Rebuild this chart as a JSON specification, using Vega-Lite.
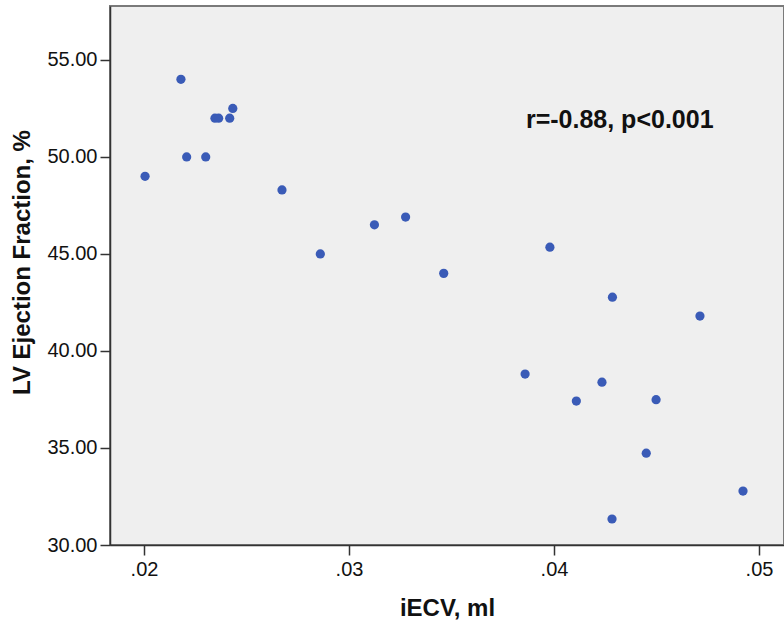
{
  "$schema": "https://vega.github.io/schema/vega-lite/v6.json",
  "width": 674,
  "height": 539,
  "autosize": {"type": "none"},
  "padding": {"left": 110, "top": 6, "right": 0, "bottom": 77},
  "background": "white",
  "config": {
    "font": "Liberation Sans",
    "view": {"fill": "#efefef", "stroke": "#7a7a7a", "strokeWidth": 2},
    "axis": {
      "grid": false,
      "domainColor": "#333333",
      "domainWidth": 1.5,
      "tickColor": "#333333",
      "tickWidth": 1.5,
      "tickSize": 10,
      "labelFont": "Liberation Sans",
      "labelFontSize": 20,
      "labelColor": "#111111",
      "titleFont": "Liberation Sans",
      "titleFontSize": 24,
      "titleFontWeight": "bold",
      "titleColor": "#111111"
    }
  },
  "datasets": {
    "pts": [
      {"iecv": 0.02005, "lvef": 49.0},
      {"iecv": 0.0218, "lvef": 54.0},
      {"iecv": 0.02208, "lvef": 50.0},
      {"iecv": 0.02301, "lvef": 50.0},
      {"iecv": 0.02346, "lvef": 52.0},
      {"iecv": 0.02364, "lvef": 52.0},
      {"iecv": 0.02418, "lvef": 52.0},
      {"iecv": 0.02433, "lvef": 52.5},
      {"iecv": 0.02673, "lvef": 48.3},
      {"iecv": 0.0286, "lvef": 45.0},
      {"iecv": 0.03124, "lvef": 46.5},
      {"iecv": 0.03276, "lvef": 46.9},
      {"iecv": 0.03462, "lvef": 44.0},
      {"iecv": 0.0398, "lvef": 45.35},
      {"iecv": 0.04285, "lvef": 42.77},
      {"iecv": 0.04712, "lvef": 41.8},
      {"iecv": 0.03859, "lvef": 38.81},
      {"iecv": 0.04234, "lvef": 38.39},
      {"iecv": 0.04109, "lvef": 37.42},
      {"iecv": 0.04498, "lvef": 37.49},
      {"iecv": 0.0445, "lvef": 34.73},
      {"iecv": 0.04922, "lvef": 32.78},
      {"iecv": 0.04283, "lvef": 31.34}
    ],
    "note": [
      {"iecv": 0.03863, "lvef": 51.9, "label": "r=-0.88, p<0.001"}
    ]
  },
  "layer": [
    {
      "data": {"name": "pts"},
      "mark": {"type": "circle", "size": 85, "opacity": 1, "color": "#3a5bb7"},
      "encoding": {
        "x": {
          "field": "iecv",
          "type": "quantitative",
          "scale": {"domain": [0.01834, 0.05122], "nice": false, "zero": false},
          "axis": {
            "title": "iECV, ml",
            "values": [0.02, 0.03, 0.04, 0.05],
            "labelExpr": "substring(format(datum.value, '.2f'), 1)",
            "labelPadding": 4,
            "titlePadding": 17
          }
        },
        "y": {
          "field": "lvef",
          "type": "quantitative",
          "scale": {"domain": [30, 57.78], "nice": false, "zero": false},
          "axis": {
            "title": "LV Ejection Fraction, %",
            "values": [30, 35, 40, 45, 50, 55],
            "format": ".2f",
            "labelPadding": 3,
            "titlePadding": 12,
            "titleY": 256
          }
        }
      }
    },
    {
      "data": {"name": "note"},
      "mark": {"type": "text", "align": "left", "baseline": "middle", "fontSize": 25, "fontWeight": "bold", "font": "Liberation Sans", "color": "#111111"},
      "encoding": {
        "x": {"field": "iecv", "type": "quantitative"},
        "y": {"field": "lvef", "type": "quantitative"},
        "text": {"field": "label"}
      }
    }
  ]
}
